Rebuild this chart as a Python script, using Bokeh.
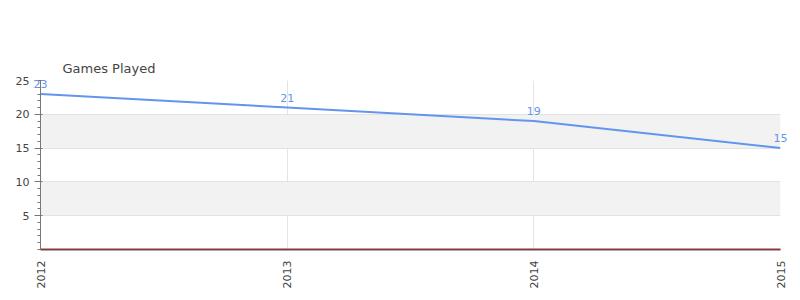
import math
from bokeh.plotting import figure
from bokeh.models import Label, FixedTicker, Range1d, Span, Title
from bokeh.embed import file_html
from bokeh.resources import INLINE

years = [2012, 2013, 2014, 2015]
games = [23, 21, 19, 15]
y_ticks = [5, 10, 15, 20, 25]
x_ticks = [2012, 2013, 2014, 2015]
title_text = "Games Played"

FONT = "DejaVu Sans"
BLUE = "#6495ED"

p = figure(width=800, height=300, output_backend="svg", toolbar_location=None,
           x_range=Range1d(min(years), max(years)), y_range=Range1d(0, 25),
           min_border_left=40, min_border_right=20, min_border_top=80, min_border_bottom=51,
           title_location=None)
p.outline_line_color = None

# title first: it sits closest to the frame
p.add_layout(Title(text=title_text, align="left", offset=22, standoff=10,
                   text_font=FONT, text_font_size="13px", text_font_style="normal",
                   text_color="#444444"), "above")

p.ygrid.ticker = FixedTicker(ticks=y_ticks)
p.ygrid.grid_line_color = "#e3e3e3"
p.ygrid.band_fill_color = "#f2f2f2"
p.ygrid.band_fill_alpha = 1.0
p.xgrid.ticker = FixedTicker(ticks=x_ticks)
p.xgrid.grid_line_color = "#e3e3e3"

p.yaxis.ticker = FixedTicker(ticks=y_ticks, minor_ticks=list(range(0, 26)))
p.yaxis.axis_line_color = "#777777"
p.yaxis.major_tick_line_color = "#777777"
p.yaxis.minor_tick_line_color = "#777777"
p.yaxis.major_tick_out = 6
p.yaxis.major_tick_in = 2
p.yaxis.minor_tick_out = 3
p.yaxis.minor_tick_in = 0
p.yaxis.major_label_text_font = FONT
p.yaxis.major_label_text_font_size = "11px"
p.yaxis.major_label_text_color = "#444444"

p.xaxis.ticker = FixedTicker(ticks=x_ticks)
p.xaxis.axis_line_color = "#555555"
p.xaxis.axis_line_width = 2
p.xaxis.major_tick_line_color = None
p.xaxis.minor_tick_line_color = None
p.xaxis.major_label_orientation = math.pi / 2
p.xaxis.major_label_text_font = FONT
p.xaxis.major_label_text_font_size = "11px"
p.xaxis.major_label_text_color = "#444444"

p.line(years, games, line_color=BLUE, line_width=2)
# value labels live in a side panel so they are not clipped at the frame edges
for xv, yv in zip(years, games):
    p.add_layout(Label(x=xv, y=yv, text=str(yv), y_offset=6,
                       text_align="center", text_baseline="bottom",
                       text_font=FONT, text_font_size="11px", text_color=BLUE), "above")

p.add_layout(Span(location=0, dimension="width", line_color="red", line_width=1, level="overlay"))

open("out.html", "w").write(file_html(p, INLINE))
